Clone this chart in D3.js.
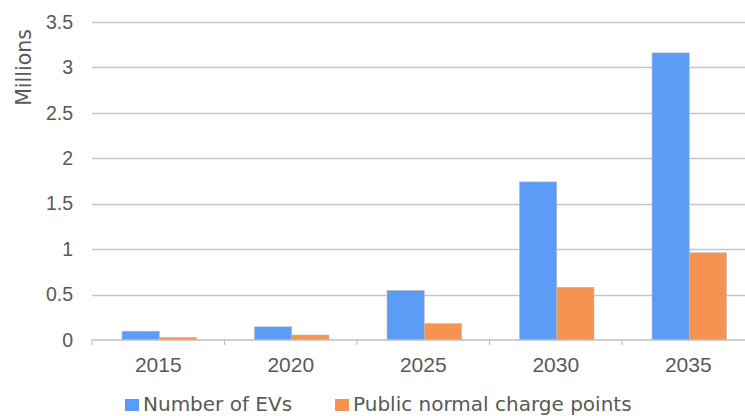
<!DOCTYPE html>
<html>
<head>
<meta charset="utf-8">
<script src="https://cdn.jsdelivr.net/npm/d3@7/dist/d3.min.js"></script>
<style>
  html, body { margin: 0; padding: 0; background: #fff; }
  svg { display: block; font-family: "DejaVu Sans", sans-serif; }
</style>
</head>
<body>
<svg id="chart" width="745" height="416"></svg>
<script>
// Projected EV fleet and public normal charge points (millions)
const years = ["2015", "2020", "2025", "2030", "2035"];
const evs = [0.097, 0.145, 0.545, 1.74, 3.16];
const chargePoints = [0.027, 0.055, 0.18, 0.58, 0.96];
const seriesNames = ["Number of EVs", "Public normal charge points"];
const seriesColors = ["#5b9cf6", "#f69350"];
const yTicks = [0, 0.5, 1, 1.5, 2, 2.5, 3, 3.5];

const svg = d3.select("#chart");
const plotLeft = 92, plotTop = 22, plotBottom = 340;
const bandW = 132.5;
const plotRight = plotLeft + bandW * years.length;

const x = d3.scaleBand().domain(years).range([plotLeft, plotRight]).paddingInner(0).paddingOuter(0);
const y = d3.scaleLinear().domain([0, 3.5]).range([plotBottom, plotTop]);
const xs = d3.scaleBand().domain([0, 1]).range([0, x.bandwidth()]).paddingInner(0).paddingOuter(0.78);

const textColor = "#595959";

// horizontal gridlines
svg.append("g")
  .selectAll("line")
  .data(yTicks.filter(d => d > 0))
  .join("line")
  .attr("x1", plotLeft).attr("x2", plotRight)
  .attr("y1", d => Math.round(y(d)) + 0.5).attr("y2", d => Math.round(y(d)) + 0.5)
  .attr("stroke", "#c6c6c6").attr("stroke-width", 1.4);

// y axis labels
const yAxis = d3.axisLeft(y).tickValues(yTicks).tickSize(0).tickPadding(19)
  .tickFormat(d => String(d));
svg.append("g")
  .attr("transform", `translate(${plotLeft},0)`)
  .call(yAxis)
  .call(g => g.select(".domain").remove())
  .call(g => g.selectAll("text").attr("fill", textColor).attr("font-size", 19.5));

// axis title
svg.append("text")
  .attr("transform", "translate(31,67.5) rotate(-90)")
  .attr("text-anchor", "middle")
  .attr("fill", textColor)
  .attr("font-size", 20.5)
  .text("Millions");

// bars
const rows = years.map((yr, i) => ({ year: yr, vals: [evs[i], chargePoints[i]] }));
const groups = svg.append("g").selectAll("g")
  .data(rows).join("g")
  .attr("transform", d => `translate(${x(d.year) + 1},0)`);
groups.selectAll("rect")
  .data(d => d.vals.map((v, k) => ({ v, k })))
  .join("rect")
  .attr("x", d => xs(d.k))
  .attr("width", xs.bandwidth())
  .attr("y", d => y(d.v))
  .attr("height", d => y(0) - y(d.v))
  .attr("fill", d => seriesColors[d.k])
  .attr("stroke", "#b8b8b8").attr("stroke-width", 0.6);

// x axis
const xAxis = d3.axisBottom(x).tickSize(0).tickPadding(0);
svg.append("g")
  .attr("transform", `translate(0,${plotBottom})`)
  .call(xAxis)
  .call(g => g.select(".domain").attr("stroke", "#c0c0c0").attr("stroke-width", 1.5)
    .attr("d", `M${plotLeft},0H${plotRight}`))
  .call(g => g.selectAll("text").attr("fill", textColor).attr("font-size", 21)
    .attr("dy", null).attr("y", 32));

// category boundary ticks
svg.append("g")
  .selectAll("line")
  .data(d3.range(years.length + 1))
  .join("line")
  .attr("x1", i => plotLeft + i * bandW).attr("x2", i => plotLeft + i * bandW)
  .attr("y1", plotBottom).attr("y2", plotBottom + 5)
  .attr("stroke", "#c0c0c0").attr("stroke-width", 1.2);

// legend
const legendX = [125, 335];
const lg = svg.append("g").selectAll("g")
  .data(seriesNames).join("g")
  .attr("transform", (d, i) => `translate(${legendX[i]},0)`);
lg.append("rect").attr("y", 399).attr("width", 14).attr("height", 12)
  .attr("fill", (d, i) => seriesColors[i]);
lg.append("text").attr("x", 18).attr("y", 411)
  .attr("fill", textColor).attr("font-size", 20)
  .text(d => d);
</script>
</body>
</html>
